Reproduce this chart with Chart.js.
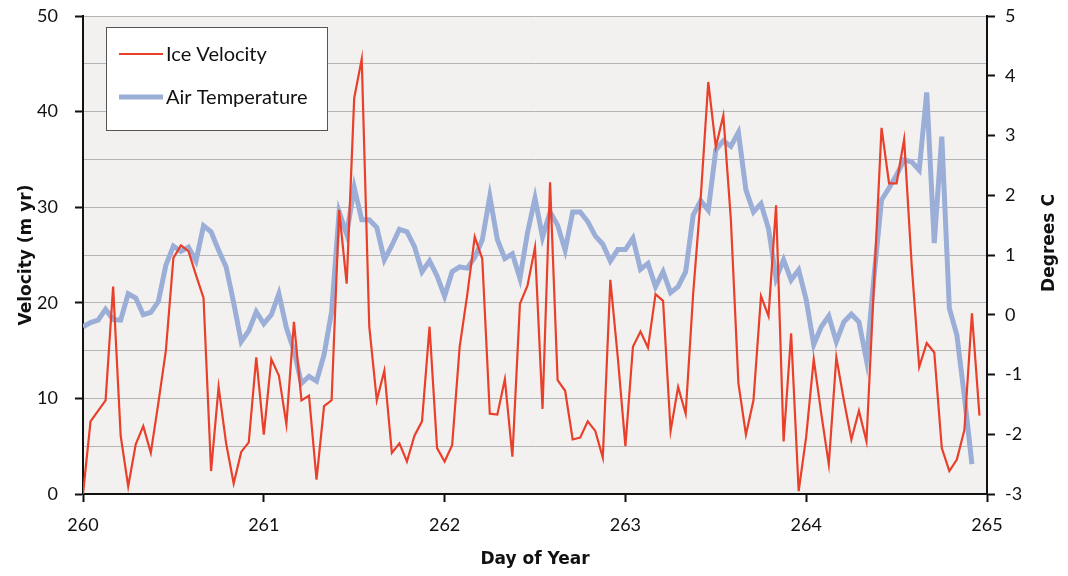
<!DOCTYPE html>
<html lang="en">
<head>
<meta charset="UTF-8">
<title>Ice Velocity and Air Temperature</title>
<script src="https://cdn.jsdelivr.net/npm/chart.js@4.4.0/dist/chart.umd.min.js"></script>
<style>
  html, body { margin: 0; padding: 0; background: #fff; }
</style>
</head>
<body>
<canvas id="chart" width="1068" height="576"></canvas>
<script>
// hourly samples starting at day 260
const startDay = 260;
const samplesPerDay = 24;

const iceVelocity = [
  0, 7.6, 8.7, 9.8, 21.7, 6.1, 0.8, 5.2, 7.1, 4.3,
  9.5, 15, 24.7, 26, 25.4, 22.9, 20.5, 2.4, 11.2, 5.3,
  1.1, 4.4, 5.4, 14.3, 6.2, 14.1, 12.4, 7.3, 18, 9.8,
  10.3, 1.5, 9.2, 9.8, 29.7, 22, 41.4, 45.5, 17.5, 9.8,
  12.9, 4.3, 5.3, 3.4, 6.1, 7.6, 17.5, 4.8, 3.4, 5.1,
  15.4, 20.8, 26.9, 24.6, 8.4, 8.3, 12, 3.9, 19.9, 21.8,
  25.8, 8.9, 32.6, 11.9, 10.8, 5.7, 5.9, 7.6, 6.6, 3.8,
  22.4, 14.2, 5, 15.4, 17, 15.3, 20.9, 20.2, 6.6, 11.2,
  8.4, 21, 31, 43.1, 36.3, 39.6, 28.7, 11.6, 6.2, 9.8,
  20.7, 18.6, 30.2, 5.5, 16.8, 0.3, 6, 14.1, 8.4, 3.1,
  14.3, 9.8, 5.7, 8.7, 5.5, 22, 38.3, 32.5, 32.5, 37.1,
  24, 13.3, 15.8, 14.8, 4.8, 2.4, 3.6, 6.7, 18.9, 8.2
];

const airTemperature = [
  -0.2, -0.13, -0.09, 0.09, -0.08, -0.09, 0.35, 0.28, 0, 0.04,
  0.22, 0.83, 1.15, 1.06, 1.13, 0.9, 1.49, 1.39, 1.08, 0.8,
  0.2, -0.45, -0.27, 0.05, -0.15, 0, 0.35, -0.22, -0.6, -1.15,
  -1.03, -1.11, -0.67, 0.05, 1.72, 1.35, 2.13, 1.59, 1.59, 1.46,
  0.92, 1.16, 1.43, 1.39, 1.14, 0.72, 0.9, 0.65, 0.31, 0.72,
  0.8, 0.78, 0.96, 1.25, 1.98, 1.26, 0.94, 1.02, 0.61, 1.37,
  1.95, 1.3, 1.72, 1.5, 1.08, 1.72, 1.72, 1.56, 1.32, 1.18,
  0.9, 1.09, 1.09, 1.28, 0.76, 0.86, 0.47, 0.72, 0.37, 0.47,
  0.72, 1.67, 1.91, 1.75, 2.76, 2.91, 2.82, 3.05, 2.09, 1.72,
  1.86, 1.44, 0.61, 0.92, 0.58, 0.75, 0.25, -0.5, -0.2, -0.02,
  -0.45, -0.12, 0.01, -0.12, -0.76, 0.64, 1.92, 2.12, 2.34, 2.59,
  2.56, 2.42, 3.72, 1.2, 2.98, 0.11, -0.34, -1.37, -2.5
];

const dayRange = [260, 265];
const velocityRange = [0, 50];
const temperatureRange = [-3, 5];

const toPoints = vals => vals.map((v, i) => ({ x: startDay + i / samplesPerDay, y: v }));

const tickFont = { family: 'Lato', size: 18 };
const titleFont = { family: 'DejaVu Sans', size: 17, weight: 'bold' };

// light plot background
const plotBackground = {
  id: 'plotBackground',
  beforeDraw(chart) {
    const { ctx, chartArea: a } = chart;
    ctx.save();
    ctx.fillStyle = '#f3f1ef';
    ctx.fillRect(a.left, a.top, a.right - a.left, a.bottom - a.top);
    ctx.restore();
  }
};

// boxed legend inside the plot, top-left
const boxLegend = {
  id: 'boxLegend',
  afterDraw(chart) {
    const { ctx } = chart;
    const x = 106, y = 27, w = 221, h = 103;
    ctx.save();
    ctx.fillStyle = '#fff';
    ctx.fillRect(x, y, w, h);
    ctx.strokeStyle = '#555';
    ctx.lineWidth = 1;
    ctx.strokeRect(x + 0.5, y + 0.5, w, h);
    ctx.font = '20px Lato';
    ctx.textBaseline = 'middle';
    chart.data.datasets.forEach((ds, i) => {
      const ly = 54 + i * 43;
      ctx.strokeStyle = ds.borderColor;
      ctx.lineWidth = ds.borderWidth;
      ctx.beginPath();
      ctx.moveTo(119, ly);
      ctx.lineTo(163, ly);
      ctx.stroke();
      ctx.fillStyle = '#111';
      ctx.fillText(ds.label, 166, ly + 1);
    });
    ctx.restore();
  }
};

// right axis title reads bottom-to-top
const rightTitle = {
  id: 'rightTitle',
  afterDraw(chart) {
    const { ctx } = chart;
    ctx.save();
    ctx.translate(1050, 243);
    ctx.rotate(-Math.PI / 2);
    ctx.font = 'bold 17px "DejaVu Sans"';
    ctx.fillStyle = '#111';
    ctx.textAlign = 'center';
    ctx.textBaseline = 'middle';
    ctx.fillText('Degrees C', 0, 0);
    ctx.restore();
  }
};

new Chart(document.getElementById('chart'), {
  type: 'line',
  data: {
    datasets: [{
      label: 'Ice Velocity',
      data: toPoints(iceVelocity),
      borderColor: '#e8402b',
      borderWidth: 2.2,
      pointRadius: 0,
      tension: 0,
      yAxisID: 'y',
      order: 1
    }, {
      label: 'Air Temperature',
      data: toPoints(airTemperature),
      borderColor: '#9aaed7',
      borderWidth: 5,
      pointRadius: 0,
      tension: 0,
      yAxisID: 'y2',
      order: 2
    }]
  },
  options: {
    responsive: false,
    animation: false,
    layout: { padding: { top: 16, left: 0, right: 0, bottom: 0 } },
    plugins: {
      legend: { display: false },
      tooltip: { enabled: false }
    },
    scales: {
      x: {
        type: 'linear',
        min: dayRange[0],
        max: dayRange[1],
        afterFit: s => { s.height = 82; },
        ticks: { stepSize: 1, font: tickFont, color: '#111', padding: 12 },
        grid: { drawOnChartArea: false, tickColor: '#111', tickLength: 8, tickWidth: 2 },
        border: { color: '#111', width: 2 },
        title: { display: true, text: 'Day of Year', font: titleFont, color: '#111', padding: { top: 0, bottom: 6 } }
      },
      y: {
        position: 'left',
        min: velocityRange[0],
        max: velocityRange[1],
        afterFit: s => { s.width = 83; s.paddingTop = 0; s.paddingBottom = 0; },
        ticks: {
          stepSize: 5,
          font: tickFont,
          color: '#111',
          padding: 17,
          callback: v => (v % 10 === 0 ? v : '')
        },
        grid: {
          color: '#b5b5b5',
          lineWidth: 1,
          tickLength: 8,
          tickWidth: 2,
          tickColor: c => (c.tick && c.tick.value % 10 === 0 ? '#111' : 'rgba(0,0,0,0)')
        },
        border: { color: '#111', width: 2 },
        title: { display: true, text: 'Velocity (m yr)', font: titleFont, color: '#111', padding: { top: 16, bottom: 0 } }
      },
      y2: {
        position: 'right',
        min: temperatureRange[0],
        max: temperatureRange[1],
        afterFit: s => { s.width = 81; s.paddingTop = 0; s.paddingBottom = 0; },
        ticks: { stepSize: 1, font: tickFont, color: '#111', padding: 10 },
        grid: { drawOnChartArea: false, tickColor: '#111', tickLength: 8, tickWidth: 2 },
        border: { color: '#111', width: 2 }
      }
    }
  },
  plugins: [plotBackground, boxLegend, rightTitle]
});
</script>
</body>
</html>
